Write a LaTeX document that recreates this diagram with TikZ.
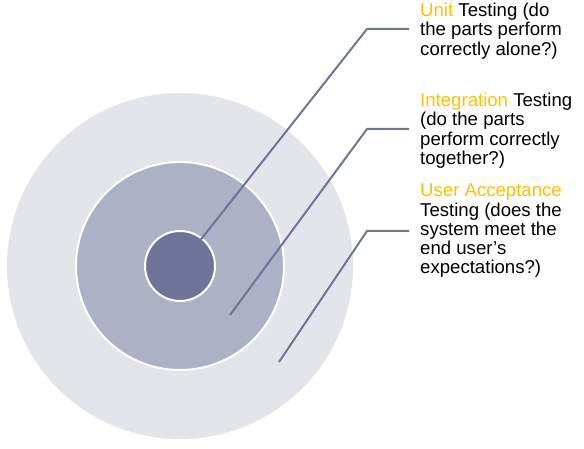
\documentclass[tikz,border=0pt]{standalone}
\usepackage{fontspec}
\setmainfont{Liberation Sans}
\usepackage{tikz}
\usetikzlibrary{positioning}
\definecolor{ringout}{HTML}{E4E5EA}
\definecolor{ringmid}{HTML}{ADB1C5}
\definecolor{ringin}{HTML}{6E7599}
\definecolor{leader}{HTML}{6E7599}
\definecolor{gold}{HTML}{FFC000}
\tikzset{
  ring/.style={draw=white, line width=2pt},
  leadline/.style={draw=leader, line width=2pt},
  label/.style={anchor=north west, inner sep=0pt, align=left,
    font=\fontsize{18.6}{19.2}\selectfont}
}

\begin{document}
\begin{tikzpicture}[x=1pt, y=-1pt]
    \useasboundingbox (0,0) rectangle (584,449);

    \coordinate (O) at (180,266);

    \filldraw[ring, fill=ringout, draw=none] (O) circle (173);
    \filldraw[ring, fill=ringmid] (O) circle (104);
    \filldraw[ring, fill=ringin] (O) circle (35);

    \coordinate (U1) at (180,266);
    \coordinate (U2) at (367,29);
    \coordinate (U3) at (409,29);

    \coordinate (I1) at (230,315);
    \coordinate (I2) at (367,129);
    \coordinate (I3) at (409,129);

    \coordinate (A1) at (279,362);
    \coordinate (A2) at (367,231);
    \coordinate (A3) at (409,231);

    \draw[leadline] (U1) -- (U2) -- (U3);
    \draw[leadline] (I1) -- (I2) -- (I3);
    \draw[leadline] (A1) -- (A2) -- (A3);

    \node[label] (unit) at (420,3)
    {\textcolor{gold}{Unit} Testing (do\\the parts perform\\correctly alone?)};
    \node[label] (integ) at (420,93)
    {\textcolor{gold}{Integration} Testing\\(do the parts\\perform correctly\\together?)};
    \node[label] (accept) at (420,184)
    {\textcolor{gold}{User Acceptance}\\Testing (does the\\system meet the\\end user’s\\expectations?)};
\end{tikzpicture}
\end{document}
